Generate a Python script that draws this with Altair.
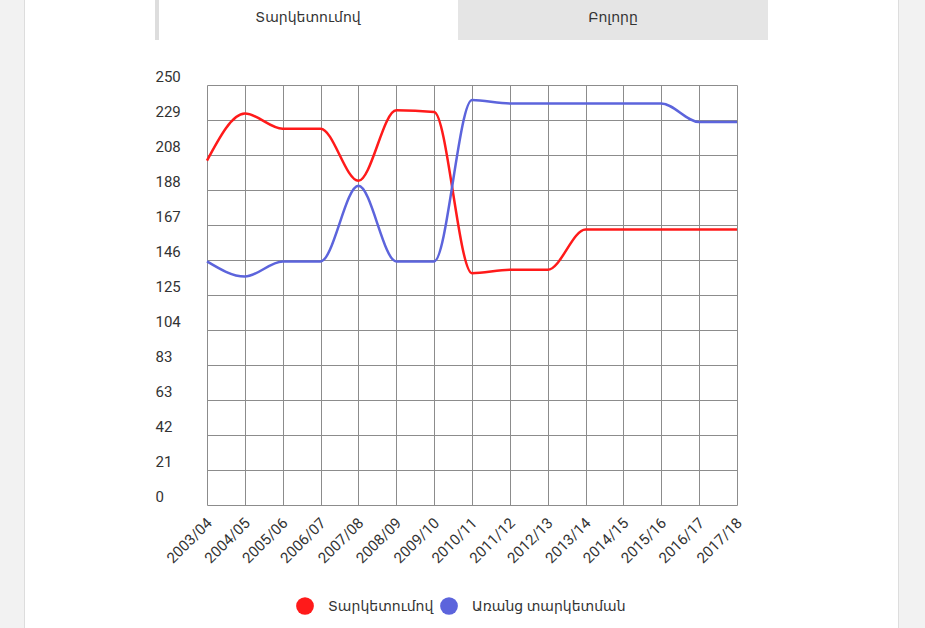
import json
import altair as alt
import pandas as pd

# ---------------- data ----------------
seasons = ["2003/04", "2004/05", "2005/06", "2006/07", "2007/08", "2008/09",
           "2009/10", "2010/11", "2011/12", "2012/13", "2013/14", "2014/15",
           "2015/16", "2016/17", "2017/18"]
with_deferral = [205, 233, 224, 224, 193, 235, 234, 138, 140, 140, 164, 164, 164, 164, 164]
without_deferral = [145, 136, 145, 145, 190, 145, 145, 241, 239, 239, 239, 239, 239, 228, 228]
series_names = ["Տարկետումով", "Առանց տարկետման"]
series_colors = ["#ff1a1a", "#5c64dc"]
y_tick_labels = ["0", "21", "42", "63", "83", "104", "125", "146", "167",
                 "188", "208", "229", "250"]
y_max = 250
tab_labels = ["Տարկետումով", "Բոլորը"]

# ---------------- tables ----------------
rows = []
for s, v in zip(seasons, with_deferral):
    rows.append({"season": s, "series": series_names[0], "value": v})
for s, v in zip(seasons, without_deferral):
    rows.append({"season": s, "series": series_names[1], "value": v})
df = pd.DataFrame(rows)

n_ticks = len(y_tick_labels) - 1
y_tick_values = [y_max * i / n_ticks for i in range(n_ticks + 1)]
label_expr = json.dumps(y_tick_labels).replace('"', "'") + \
    f"[round(datum.value*{n_ticks}/{y_max})]"

FONT = "Roboto, 'DejaVu Sans', sans-serif"
TEXT_COLOR = "#333333"
GRID = "#8c8c8c"

x_enc = alt.X(
    "season:N", sort=seasons,
    scale=alt.Scale(type="point", range=[52, 582], padding=0),
    axis=alt.Axis(title=None, domain=False, ticks=False, grid=True,
                  gridColor=GRID, gridWidth=1, labelAngle=-45,
                  labelAlign="right", labelBaseline="middle", labelPadding=15,
                  labelOffset=2, labelOverlap=False,
                  labelFontSize=15, labelColor=TEXT_COLOR, labelFont=FONT),
)
y_enc = alt.Y(
    "value:Q",
    scale=alt.Scale(domain=[0, y_max], nice=False, zero=True),
    axis=alt.Axis(title=None, domain=False, ticks=False, tickSize=0,
                  values=y_tick_values, tickCount=len(y_tick_values) + 2,
                  labelExpr=label_expr, grid=True,
                  gridColor=GRID, gridWidth=1, labelAlign="left",
                  labelBaseline="alphabetic", labelPadding=0, labelOffset=-4,
                  labelFlush=False, labelOverlap=False,
                  labelFontSize=15, labelColor=TEXT_COLOR, labelFont=FONT),
)
color_scale = alt.Scale(domain=series_names, range=series_colors)

lines = alt.Chart(df).mark_line(interpolate="monotone", strokeWidth=2.5).encode(
    x=x_enc, y=y_enc,
    color=alt.Color("series:N", scale=color_scale, legend=None),
)

# ---------------- legend (drawn as marks) ----------------
one = pd.DataFrame({"d": [0]})
legend_layers = []
legend_symbol_x = [150, 294]
legend_text_x = [173, 317]
for i, name in enumerate(series_names):
    legend_layers.append(
        alt.Chart(one).mark_circle(size=314, opacity=1).encode(
            x=alt.value(legend_symbol_x[i]), y=alt.value(521),
            color=alt.value(series_colors[i]))
    )
    legend_layers.append(
        alt.Chart(one).mark_text(
            font=FONT, fontSize=14, color=TEXT_COLOR, align="left",
            baseline="middle").encode(
            x=alt.value(legend_text_x[i]), y=alt.value(522),
            text=alt.value(name))
    )

# ---------------- page decoration ----------------
left_strip = alt.Chart(one).mark_rect(color="#f2f2f2").encode(
    x=alt.value(-155), x2=alt.value(-131), y=alt.value(-85), y2=alt.value(543))
right_strip = alt.Chart(one).mark_rect(color="#f2f2f2").encode(
    x=alt.value(744), x2=alt.value(770), y=alt.value(-85), y2=alt.value(543))
left_border = alt.Chart(one).mark_rule(color="#dddddd", strokeWidth=1).encode(
    x=alt.value(-130.5), y=alt.value(-85), y2=alt.value(543))
right_border = alt.Chart(one).mark_rule(color="#dddddd", strokeWidth=1).encode(
    x=alt.value(743.5), y=alt.value(-85), y2=alt.value(543))
tab_strip = alt.Chart(one).mark_rect(color="#dddddd").encode(
    x=alt.value(0), x2=alt.value(4), y=alt.value(-85), y2=alt.value(-45))
tab_gray = alt.Chart(one).mark_rect(color="#e5e5e5").encode(
    x=alt.value(303), x2=alt.value(613), y=alt.value(-85), y2=alt.value(-45))
tab_text1 = alt.Chart(one).mark_text(
    font=FONT, fontSize=14, color=TEXT_COLOR, baseline="middle", align="center"
).encode(x=alt.value(153), y=alt.value(-67), text=alt.value(tab_labels[0]))
tab_text2 = alt.Chart(one).mark_text(
    font=FONT, fontSize=14, color=TEXT_COLOR, baseline="middle", align="center"
).encode(x=alt.value(458), y=alt.value(-67), text=alt.value(tab_labels[1]))

chart = alt.layer(
    left_strip, right_strip, left_border, right_border, tab_strip, tab_gray,
    tab_text1, tab_text2, lines, *legend_layers,
).properties(
    width=600, height=420,
    autosize=alt.AutoSizeParams(type="none"),
    padding={"left": 155, "top": 85, "right": 170, "bottom": 123},
    background="white",
).configure_view(stroke=None)

chart.save("out.html", embed_options={"renderer": "svg", "actions": False})
